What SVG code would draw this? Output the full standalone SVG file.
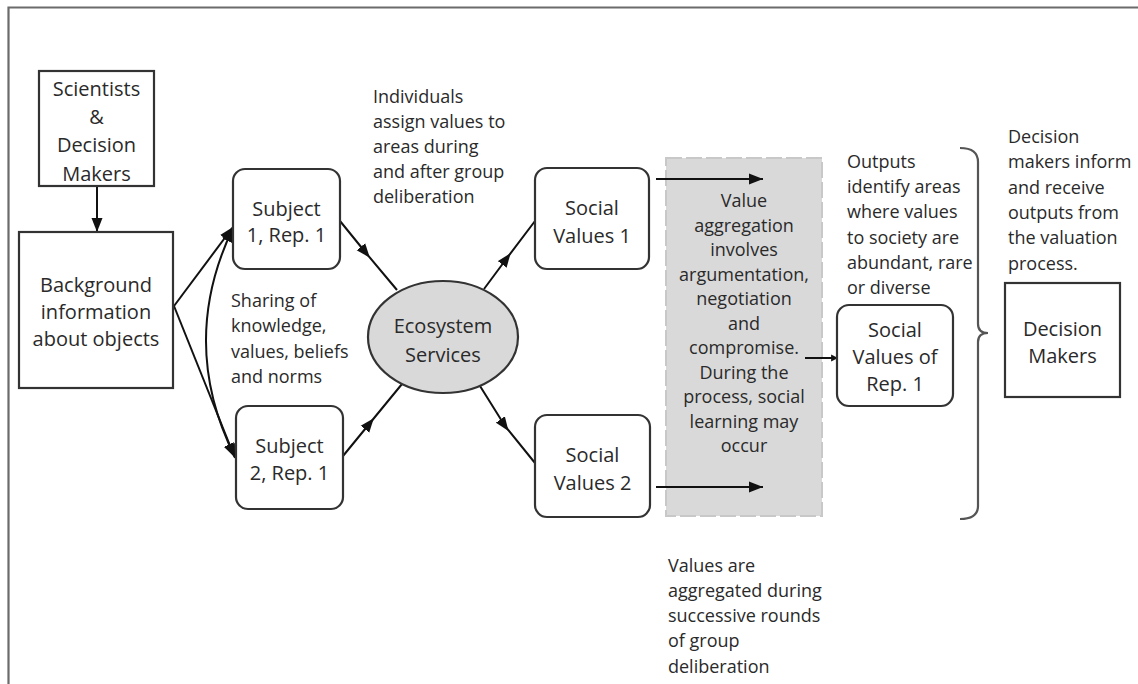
<svg xmlns="http://www.w3.org/2000/svg" width="1138" height="684" viewBox="0 0 1138 684">
<defs>
<style>
.box{fill:#fff;stroke:#333;stroke-width:2.2}
.nt{font-family:"Open Sans","Liberation Sans",sans-serif;font-size:20px;fill:#2a2a2a;text-anchor:middle}
.at{font-family:"Open Sans","Liberation Sans",sans-serif;font-size:18px;fill:#2a2a2a}
.gt{font-family:"Open Sans","Liberation Sans",sans-serif;font-size:18px;fill:#2a2a2a;text-anchor:middle}
.ln{fill:none;stroke:#111;stroke-width:2}
</style>
<marker id="ah" markerUnits="userSpaceOnUse" markerWidth="15" markerHeight="12" refX="14" refY="5.5" orient="auto-start-reverse" viewBox="0 0 15 11">
<path d="M0,0 L14,5.5 L0,11 z" fill="#111"/>
</marker>
<marker id="am" markerUnits="userSpaceOnUse" markerWidth="15" markerHeight="12" refX="8" refY="5.5" orient="auto" viewBox="0 0 15 11">
<path d="M0,0 L14,5.5 L0,11 z" fill="#111"/>
</marker>
<marker id="as" markerUnits="userSpaceOnUse" markerWidth="8" markerHeight="8" refX="6" refY="3" orient="auto" viewBox="0 0 7 6">
<path d="M0,0 L6,3 L0,6 z" fill="#111"/>
</marker>
</defs>
<rect width="1138" height="684" fill="#fff"/>
<g id="frame" fill="none" stroke="#6b6b6b" stroke-width="2.2">
<path d="M8.5,684 L8.5,7.5 L1138,7.5"/>
</g>
<g id="aggregation-area">
<rect x="666" y="158" width="156" height="358" fill="#d9d9d9" stroke="#c8c8c8" stroke-width="2" stroke-dasharray="16 4"/>
<text class="gt"><tspan x="744" y="207">Value</tspan><tspan x="744" y="231.5">aggregation</tspan><tspan x="744" y="256">involves</tspan><tspan x="744" y="280.5">argumentation,</tspan><tspan x="744" y="305">negotiation</tspan><tspan x="744" y="329.5">and</tspan><tspan x="744" y="354">compromise.</tspan><tspan x="744" y="378.5">During the</tspan><tspan x="744" y="403">process, social</tspan><tspan x="744" y="427.5">learning may</tspan><tspan x="744" y="452">occur</tspan></text>
</g>
<g id="connectors">
<path class="ln" d="M97,186 L97,232" marker-end="url(#ah)"/>
<path class="ln" d="M174,306 L233,227" marker-end="url(#ah)"/>
<path class="ln" d="M174,306 L235,458" marker-end="url(#ah)"/>
<path class="ln" d="M233,228 Q178,343 235,457" marker-start="url(#ah)" marker-end="url(#ah)"/>
<path class="ln" d="M340,221 L366,253 L397,290" marker-mid="url(#am)"/>
<path class="ln" d="M343,456 L370,423 L402,384" marker-mid="url(#am)"/>
<path class="ln" d="M484,289 L507,258 L535,221" marker-mid="url(#am)"/>
<path class="ln" d="M480,386 L505,426 L535,463" marker-mid="url(#am)"/>
<path class="ln" d="M656,179 L763,179" marker-end="url(#ah)"/>
<path class="ln" d="M656,487 L763,487" marker-end="url(#ah)"/>
<path class="ln" d="M805,358 L838,358" marker-end="url(#as)"/>
</g>
<g id="bracket">
<path d="M960,148 Q978,148 978,162 L978,324 Q978,333 988,333 Q978,333 978,342 L978,506 Q978,519 960,519" fill="none" stroke="#555" stroke-width="2.2"/>
</g>
<g id="scientists">
<rect class="box" x="39" y="71" width="115" height="115"/>
<text class="nt"><tspan x="96.5" y="96">Scientists</tspan><tspan x="96.5" y="124">&amp;</tspan><tspan x="96.5" y="152">Decision</tspan><tspan x="96.5" y="181">Makers</tspan></text>
</g>
<g id="background">
<rect class="box" x="19" y="232" width="154" height="156"/>
<text class="nt"><tspan x="96" y="292">Background</tspan><tspan x="96" y="319">information</tspan><tspan x="96" y="346">about objects</tspan></text>
</g>
<g id="subject1">
<rect class="box" x="233" y="169" width="107" height="100" rx="12"/>
<text class="nt"><tspan x="286.5" y="216">Subject</tspan><tspan x="286.5" y="242">1, Rep. 1</tspan></text>
</g>
<g id="subject2">
<rect class="box" x="236" y="406" width="107" height="103" rx="12"/>
<text class="nt"><tspan x="289.5" y="453">Subject</tspan><tspan x="289.5" y="480">2, Rep. 1</tspan></text>
</g>
<g id="ecosystem">
<ellipse cx="443" cy="337" rx="75" ry="56" fill="#d9d9d9" stroke="#333" stroke-width="2.2"/>
<text class="nt"><tspan x="443" y="333">Ecosystem</tspan><tspan x="443" y="362">Services</tspan></text>
</g>
<g id="social1">
<rect class="box" x="535" y="168" width="114" height="101" rx="12"/>
<text class="nt"><tspan x="592" y="215">Social</tspan><tspan x="592" y="243">Values 1</tspan></text>
</g>
<g id="social2">
<rect class="box" x="535" y="415" width="115" height="102" rx="12"/>
<text class="nt"><tspan x="592.5" y="462">Social</tspan><tspan x="592.5" y="490">Values 2</tspan></text>
</g>
<g id="socialrep1">
<rect class="box" x="837" y="305" width="116" height="101" rx="12"/>
<text class="nt"><tspan x="895" y="337">Social</tspan><tspan x="895" y="364">Values of</tspan><tspan x="895" y="391">Rep. 1</tspan></text>
</g>
<g id="decisionmakers">
<rect class="box" x="1005" y="283" width="115" height="114"/>
<text class="nt"><tspan x="1062.5" y="336">Decision</tspan><tspan x="1062.5" y="363">Makers</tspan></text>
</g>
<g id="annotations">
<text class="at"><tspan x="373" y="103">Individuals</tspan><tspan x="373" y="128">assign values to</tspan><tspan x="373" y="153">areas during</tspan><tspan x="373" y="178">and after group</tspan><tspan x="373" y="203">deliberation</tspan></text>
<text class="at"><tspan x="231" y="307">Sharing of</tspan><tspan x="231" y="332">knowledge,</tspan><tspan x="231" y="358">values, beliefs</tspan><tspan x="231" y="383">and norms</tspan></text>
<text class="at"><tspan x="847" y="168">Outputs</tspan><tspan x="847" y="193">identify areas</tspan><tspan x="847" y="218">where values</tspan><tspan x="847" y="244">to society are</tspan><tspan x="847" y="269">abundant, rare</tspan><tspan x="847" y="294">or diverse</tspan></text>
<text class="at"><tspan x="1008" y="143">Decision</tspan><tspan x="1008" y="168">makers inform</tspan><tspan x="1008" y="194">and receive</tspan><tspan x="1008" y="219">outputs from</tspan><tspan x="1008" y="244">the valuation</tspan><tspan x="1008" y="270">process.</tspan></text>
<text class="at"><tspan x="668" y="572">Values are</tspan><tspan x="668" y="597">aggregated during</tspan><tspan x="668" y="622">successive rounds</tspan><tspan x="668" y="647">of group</tspan><tspan x="668" y="673">deliberation</tspan></text>
</g>
</svg>
